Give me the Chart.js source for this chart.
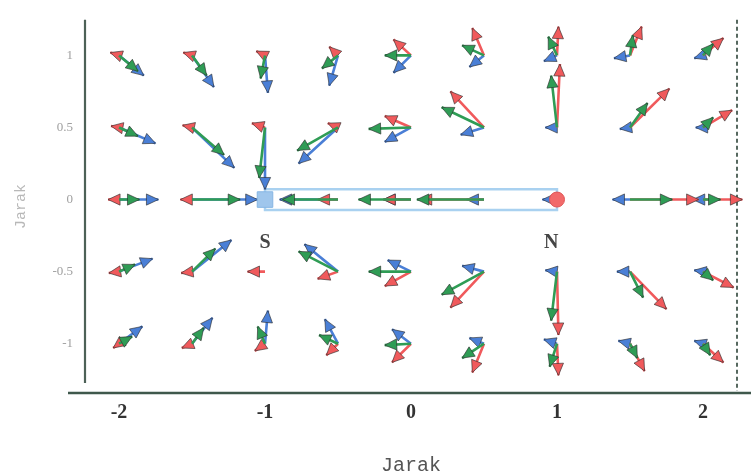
<!DOCTYPE html>
<html><head><meta charset="utf-8">
<script src="https://cdn.jsdelivr.net/npm/chart.js@4.4.1/dist/chart.umd.min.js"></script>
<style>html,body{margin:0;padding:0;background:#fff;}canvas{display:block}</style>
</head><body>
<canvas id="c" width="751" height="476"></canvas>
<script>
// grid of field sample points
const gridX = [-2,-1.5,-1,-0.5,0,0.5,1,1.5,2];
const gridY = [1,0.5,0,-0.5,-1];
const xTicks = [-2,-1,0,1,2];
const yTicks = [1,0.5,0,-0.5,-1];
const yTickLabels = ['1','0.5','0','-0.5','-1'];
// magnet poles
const poleNames = ['S','N'];
const poleX = [-1, 1];
const poleY = [0, 0];
// red arrows (field of N pole), rows top->bottom, cols left->right
const redDX = [
 -0.06,-0.06,-0.06,-0.06,-0.12,-0.08,0.01,0.08,0.14,
 -0.055,-0.065,-0.09,-0.07,-0.18,-0.23,0.02,0.27,0.20,
 -0.075,-0.08,null,-0.14,-0.19,-0.44,null,0.47,0.27,
 -0.07,-0.075,-0.12,-0.14,-0.18,-0.23,0.01,0.25,0.21,
 -0.04,-0.07,-0.07,-0.08,-0.13,-0.08,0.01,0.10,0.14];
const redDY = [
 0.02,0.02,0.03,0.06,0.11,0.19,0.20,0.20,0.12,
 0.01,0.015,0.03,0.03,0.08,0.25,0.44,0.27,0.12,
 0,0,null,0,0,0,null,0,0,
 -0.01,-0.01,0,-0.05,-0.10,-0.25,-0.44,-0.26,-0.11,
 -0.03,-0.03,-0.05,-0.08,-0.13,-0.20,-0.22,-0.19,-0.13];
// green arrows (resultant field)
const greenDX = [
 0.13,0.10,-0.03,-0.11,-0.18,-0.15,-0.06,0.02,0.07,
 0.13,0.22,-0.04,-0.28,-0.29,-0.29,-0.04,0.12,0.07,
 0.14,0.33,null,-0.38,-0.36,-0.46,null,0.29,0.12,
 0.11,0.16,null,-0.27,-0.29,-0.29,-0.04,0.09,0.07,
 0.09,0.08,-0.05,-0.13,-0.18,-0.15,-0.05,0.05,0.05];
const greenDY = [
 -0.11,-0.14,-0.16,-0.09,0,0.07,0.13,0.14,0.08,
 -0.06,-0.19,-0.35,-0.16,-0.01,0.14,0.36,0.17,0.07,
 0,0,null,0,0,0,null,0,0,
 0.05,0.16,null,0.14,0,-0.16,-0.34,-0.18,-0.06,
 0.05,0.11,0.12,0.06,-0.01,-0.10,-0.16,-0.10,-0.08];
// blue arrows (field of S pole)
const blueDX = [
 0.17,0.15,0.02,-0.06,-0.12,-0.10,-0.09,-0.11,-0.06,
 0.25,0.29,0,-0.27,-0.18,-0.16,-0.08,-0.07,-0.05,
 0.27,0.45,null,-0.40,-0.19,-0.12,-0.10,-0.12,-0.07,
 0.23,0.27,null,-0.23,-0.16,-0.15,-0.08,-0.09,-0.06,
 0.16,0.14,0.02,-0.09,-0.13,-0.10,-0.09,-0.08,-0.06];
const blueDY = [
 -0.14,-0.22,-0.26,-0.21,-0.12,-0.08,-0.04,-0.02,-0.02,
 -0.11,-0.28,-0.43,-0.25,-0.10,-0.05,0,-0.01,0,
 0,0,null,0,0,0,0,0,0,
 0.09,0.22,null,0.19,0.08,0.04,0.01,0,0.01,
 0.12,0.18,0.23,0.17,0.10,0.04,0.03,0.02,0.02];

const RED='#f05a5c', GREEN='#2f9c55', BLUE='#4a7fd6';
const MAGNET_HALF = 0.072;

function buildArrows(dx, dy){
  const pts=[];
  for(let k=0;k<dx.length;k++){
    if(dx[k]===null) continue;
    const x0=gridX[k%gridX.length], y0=gridY[Math.floor(k/gridX.length)];
    pts.push({x:x0,y:y0},{x:x0+dx[k],y:y0+dy[k]},{x:null,y:null});
  }
  return pts;
}
const arrowDS=(label,data,color)=>({label,data,showLine:true,borderColor:color,backgroundColor:color,
  borderWidth:2.6,pointRadius:0,pointHoverRadius:0,spanGaps:false,clip:false,arrowHeads:true});

const magnetData=[
 {x:poleX[0],y:poleY[0]+MAGNET_HALF},{x:poleX[1],y:poleY[1]+MAGNET_HALF},
 {x:poleX[1],y:poleY[1]-MAGNET_HALF},{x:poleX[0],y:poleY[0]-MAGNET_HALF},
 {x:poleX[0],y:poleY[0]+MAGNET_HALF}];

const headPlugin={
  id:'heads',
  afterDatasetDraw(chart,args){
    const ds=chart.data.datasets[args.index];
    if(!ds.arrowHeads) return;
    const ctx=chart.ctx, pts=args.meta.data;
    ctx.save();
    ctx.fillStyle=ds.borderColor; ctx.strokeStyle='rgba(45,45,45,0.7)'; ctx.lineWidth=0.9;
    for(let i=1;i<pts.length;i+=3){
      const b=pts[i-1], t=pts[i];
      let ux=t.x-b.x, uy=t.y-b.y; const L=Math.hypot(ux,uy); if(!L) continue;
      ux/=L; uy/=L;
      const hl=12, hw=5.6;
      const bx=t.x-ux*hl, by=t.y-uy*hl;
      ctx.beginPath();
      ctx.moveTo(t.x,t.y);
      ctx.lineTo(bx-uy*hw,by+ux*hw);
      ctx.lineTo(bx+uy*hw,by-ux*hw);
      ctx.closePath(); ctx.fill(); ctx.stroke();
    }
    ctx.restore();
  }
};
const framePlugin={
  id:'frame',
  beforeDatasetsDraw(chart){
    const {ctx,chartArea:a}=chart;
    ctx.save();
    ctx.strokeStyle='#3f584c'; ctx.lineWidth=2.5;
    ctx.beginPath(); ctx.moveTo(68,a.bottom); ctx.lineTo(751,a.bottom); ctx.stroke();
    ctx.strokeStyle='#4d6157'; ctx.lineWidth=2.2;
    ctx.beginPath(); ctx.moveTo(a.left,a.top); ctx.lineTo(a.left,a.bottom-10); ctx.stroke();
    ctx.setLineDash([4,3]); ctx.strokeStyle='#56685f'; ctx.lineWidth=2;
    ctx.beginPath(); ctx.moveTo(a.right,a.top); ctx.lineTo(a.right,a.bottom-2); ctx.stroke();
    ctx.restore();
  },
  afterDatasetsDraw(chart){
    const {ctx,scales:{x,y}}=chart;
    ctx.save();
    ctx.font='bold 20px "Liberation Serif"'; ctx.fillStyle='#454545';
    ctx.textAlign='center'; ctx.textBaseline='middle';
    const offs=[0.0,-0.04];
    poleNames.forEach((n,i)=>ctx.fillText(n,x.getPixelForValue(poleX[i]+offs[i]),y.getPixelForValue(poleY[i]-0.3)));
    ctx.restore();
  }
};

new Chart(document.getElementById('c'),{
  type:'scatter',
  data:{datasets:[
    {label:'S',data:[{x:poleX[0],y:poleY[0]}],pointStyle:'rect',pointRadius:11,backgroundColor:'#9fc6ec',borderColor:'#86b6e4',borderWidth:1,clip:false},
    {label:'N',data:[{x:poleX[1],y:poleY[1]}],pointStyle:'circle',pointRadius:7.5,backgroundColor:'#f26a6a',borderColor:'#e05555',borderWidth:1,clip:false},
    arrowDS('green',buildArrows(greenDX,greenDY),GREEN),
    arrowDS('red',buildArrows(redDX,redDY),RED),
    arrowDS('blue',buildArrows(blueDX,blueDY),BLUE),
    {label:'magnet',data:magnetData,showLine:true,borderColor:'#a9d1f0',borderWidth:2.5,pointRadius:0,fill:false}
  ]},
  options:{
    responsive:false,animation:false,devicePixelRatio:1,
    layout:{padding:{top:15,right:14,left:0,bottom:0}},
    plugins:{legend:{display:false},tooltip:{enabled:false}},
    scales:{
      x:{type:'linear',min:-2.233,max:2.233,
        afterBuildTicks:s=>{s.ticks=xTicks.map(v=>({value:v}));},
        afterFit:s=>{s.height=83;},
        grid:{display:false,drawTicks:false},border:{display:false},
        ticks:{padding:8,color:'#333',font:{family:'Liberation Serif',size:20,weight:'bold'},callback:v=>String(v)},
        title:{display:true,text:'Jarak',color:'#555',font:{family:'Liberation Mono',size:20,lineHeight:1},padding:{top:0,bottom:0}}},
      y:{type:'linear',min:-1.342,max:1.247,
        afterBuildTicks:s=>{s.ticks=yTicks.map(v=>({value:v}));},
        afterFit:s=>{s.width=85;},
        grid:{display:false,drawTicks:false},border:{display:false},
        ticks:{padding:12,color:'#a0a0a0',font:{family:'Liberation Serif',size:13},callback:v=>yTickLabels[yTicks.indexOf(v)]},
        title:{display:true,text:'Jarak',color:'#b8b8b8',font:{family:'Liberation Mono',size:15,lineHeight:1},padding:{top:14}}}
    }
  },
  plugins:[headPlugin,framePlugin]
});
</script>
</body></html>
